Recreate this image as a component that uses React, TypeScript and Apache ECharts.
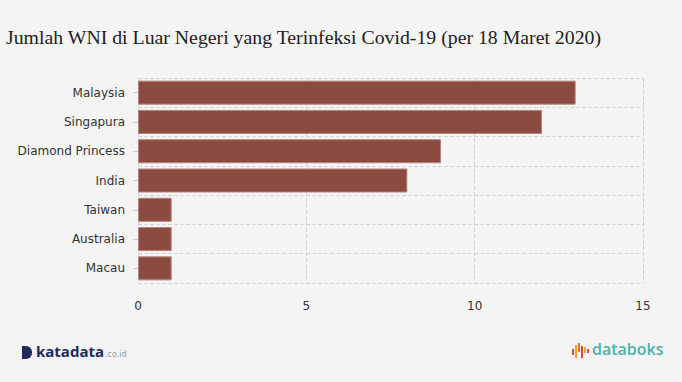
import React, { useEffect, useRef } from "react";
import * as echarts from "echarts";

const categories = ["Malaysia", "Singapura", "Diamond Princess", "India", "Taiwan", "Australia", "Macau"];
const values = [13, 12, 9, 8, 1, 1, 1];
const xTicks = [0, 5, 10, 15];

export default function App() {
  const ref = useRef<HTMLDivElement>(null);
  useEffect(() => {
    const chart = echarts.init(ref.current!, null, { renderer: "svg" });
    const barColors = ["#e0483a", "#f0a030", "#e8742c", "#e0483a", "#f0a030"];
    chart.setOption({
      animation: false,
      backgroundColor: "#f4f4f4",
      title: {
        text: "Jumlah WNI di Luar Negeri yang Terinfeksi Covid-19 (per 18 Maret 2020)",
        left: 1,
        top: 22,
        textStyle: { fontFamily: "Liberation Serif", fontWeight: "normal", fontSize: 19.8, color: "#222" },
      },
      grid: { left: 138, right: 39, top: 78, bottom: 99 },
      xAxis: {
        type: "value",
        min: 0,
        max: 15,
        interval: 5,
        axisLine: { show: false },
        axisTick: { show: false },
        axisLabel: {
          margin: 17,
          color: "#333",
          fontFamily: "DejaVu Sans",
          fontSize: 12,
          formatter: (v: number) => (xTicks.includes(v) ? String(v) : ""),
        },
        splitLine: { show: true, lineStyle: { type: "dashed", color: "#d4d4d4", width: 1 } },
      },
      yAxis: {
        type: "category",
        data: categories,
        inverse: true,
        axisLine: { show: false },
        axisTick: { show: true, alignWithLabel: true, length: 5, lineStyle: { color: "#ccc" } },
        axisLabel: { color: "#333", fontFamily: "DejaVu Sans", fontSize: 12, margin: 13 },
        splitLine: { show: true, lineStyle: { type: "dashed", color: "#d4d4d4", width: 1 } },
      },
      series: [
        {
          type: "bar",
          data: values,
          barCategoryGap: "18%",
          itemStyle: { color: "#8c4b40", borderColor: "#b58379", borderWidth: 1 },
        },
      ],
      graphic: [
        { type: "rect", shape: { x: 22, y: 346, width: 4, height: 13 }, style: { fill: "#1b2b5c" } },
        { type: "rect", shape: { x: 26, y: 346, width: 6, height: 13, r: [0, 6, 6, 0] }, style: { fill: "#1b2b5c" } },
        {
          type: "text",
          left: 36,
          top: 343,
          style: { text: "katadata", fill: "#1b2b5c", font: "bold 15px 'Open Sans'" },
        },
        {
          type: "text",
          left: 105,
          top: 350,
          style: { text: ".co.id", fill: "#8a9aa0", font: "8px 'DejaVu Sans'" },
        },
        ...[
          [572, 349, 2, 6],
          [575, 345, 2, 13],
          [578, 343, 2, 9],
          [581, 346, 2, 12],
          [584, 347, 2, 6],
          [587, 349, 2, 4],
        ].map(([x, y, w, h], i) => ({
          type: "rect",
          shape: { x, y, width: w, height: h },
          style: { fill: barColors[i % barColors.length] },
        })),
        {
          type: "text",
          left: 592,
          top: 341,
          style: { text: "databoks", fill: "#4bb3ad", font: "600 16px 'Open Sans'" },
        },
      ],
    });
    return () => chart.dispose();
  }, []);
  return <div ref={ref} style={{ width: 682, height: 382, position: "absolute", left: 0, top: 0 }} />;
}
